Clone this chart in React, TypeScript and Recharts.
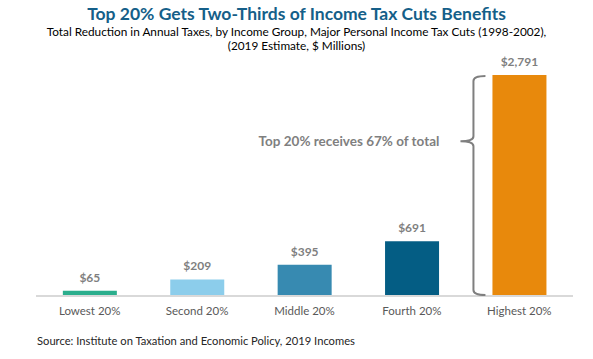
import React from "react";
import { BarChart, Bar, XAxis, YAxis, Cell, LabelList } from "recharts";

const categories = ["Lowest 20%", "Second 20%", "Middle 20%", "Fourth 20%", "Highest 20%"];
const values = [65, 209, 395, 691, 2791];
const valueLabels = ["$65", "$209", "$395", "$691", "$2,791"];
const barColors = ["#2bae8d", "#8ccdeb", "#378ab1", "#045d84", "#e8890c"];
const annotation = "Top 20% receives 67% of total";

const data = categories.map((c, i) => ({ name: c, value: values[i], label: valueLabels[i] }));

const FONT = "Lato, 'Open Sans', sans-serif";

const ValueLabel = (props: any) => {
  const { x, y, width, index } = props;
  return (
    <text x={x + width / 2} y={y - 9} textAnchor="middle" fill="#7f7f7f" fontSize={12} fontWeight={700} fontFamily={FONT}>
      {valueLabels[index]}
    </text>
  );
};

const BracketLabel = (props: any) => {
  const { x, y, height, index } = props;
  if (index !== values.length - 1) return null;
  const bx = x - 19;
  const rx = x - 7;
  const top = y + 1;
  const bottom = y + height - 1;
  const tipY = y + height * 0.3;
  const tipX = bx - 13;
  const d = `M ${rx} ${top} Q ${bx} ${top} ${bx} ${top + 5} L ${bx} ${tipY - 5} Q ${bx} ${tipY} ${tipX} ${tipY} Q ${bx} ${tipY} ${bx} ${tipY + 5} L ${bx} ${bottom - 5} Q ${bx} ${bottom} ${rx} ${bottom}`;
  return (
    <g>
      <path d={d} fill="none" stroke="#7f7f7f" strokeWidth={2} />
      <text x={tipX - 21} y={tipY + 5} textAnchor="end" fill="#7f7f7f" fontSize={13.5} fontWeight={700} fontFamily={FONT}>
        {annotation}
      </text>
    </g>
  );
};

export default function App() {
  return (
    <div style={{ position: "absolute", left: 0, top: 0, width: 593, height: 359, background: "#fff", fontFamily: FONT }}>
      <div style={{ position: "absolute", left: 0, top: 4, width: 593, textAlign: "center", color: "#155f89", fontWeight: 700, fontSize: 17.5, lineHeight: "20px" }}>
        Top 20% Gets Two-Thirds of Income Tax Cuts Benefits
      </div>
      <div style={{ position: "absolute", left: 0, top: 25, width: 593, textAlign: "center", color: "#000", fontSize: 11.8, lineHeight: "14px" }}>
        Total Reduction in Annual Taxes, by Income Group, Major Personal Income Tax Cuts (1998-2002),
        <br />
        (2019 Estimate, $ Millions)
      </div>
      <div style={{ position: "absolute", left: 0, top: 0 }}>
        <BarChart width={593} height={359} data={data} margin={{ top: 75, right: 20, bottom: 33, left: 36 }} barCategoryGap="25%">
          <XAxis
            dataKey="name"
            height={30}
            tickLine={false}
            axisLine={{ stroke: "#d9d9d9", strokeWidth: 2 }}
            tick={{ fill: "#595959", fontSize: 11.5, fontFamily: FONT, dy: 3 }}
            interval={0}
          />
          <YAxis hide domain={[0, "dataMax"]} />
          <Bar dataKey="value" isAnimationActive={false}>
            {data.map((d, i) => (
              <Cell key={d.name} fill={barColors[i]} />
            ))}
            <LabelList dataKey="value" content={ValueLabel} />
            <LabelList dataKey="value" content={BracketLabel} />
          </Bar>
        </BarChart>
      </div>
      <div style={{ position: "absolute", left: 37, top: 334, color: "#262626", fontSize: 11.2 }}>
        Source: Institute on Taxation and Economic Policy, 2019 Incomes
      </div>
    </div>
  );
}
